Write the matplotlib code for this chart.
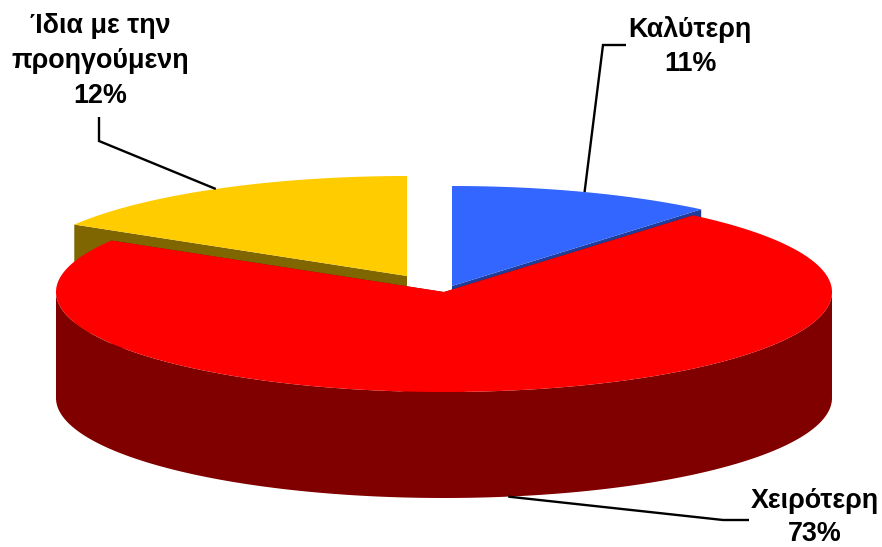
import numpy as np
import matplotlib
matplotlib.use("Agg")
import matplotlib.pyplot as plt
from matplotlib.patches import Polygon

# Data: clockwise from 12 o'clock
categories = ["Καλύτερη", "Χειρότερη", "Ίδια με την\nπροηγούμενη"]
label_pct = [11, 73, 12]            # printed on the chart
drawn_share = [11.1, 72.5, 16.4]    # slice sizes as they appear in the picture

top_colors = ["#3366FF", "#FF0000", "#FFCC00"]
side_colors = ["#1F3D99", "#800000", "#806600"]
offsets = [(8, -6), (0, 0), (-37, -16)]     # exploded slice displacement, px
label_x = [690, 815, 100]
label_first_baseline = [37, 508, 33]
label_step = [34, 33, 35]
elbows = [[(626, 45), (603, 45)], [(749, 520), (723, 520)], [(99, 117), (99, 141)]]

CX, CY, A, B, DEPTH = 444, 292, 388, 100, 106

plt.rcParams["font.family"] = ["Liberation Sans", "DejaVu Sans"]
fig = plt.figure(figsize=(8.82, 5.47), dpi=100, facecolor="white")
ax = fig.add_axes([0, 0, 1, 1])
ax.set_xlim(0, 882)
ax.set_ylim(547, 0)
ax.axis("off")


def rim(t_deg, ox, oy, dz=0):
    t = np.radians(t_deg)
    return np.column_stack((CX + ox + A * np.sin(t), CY + oy + dz - B * np.cos(t)))


edges = np.concatenate(([0], np.cumsum(drawn_share))) / sum(drawn_share) * 360
order = [2, 0, 1]   # painter's order: back slices first, red in front

for z, i in enumerate(order):
    t0, t1 = edges[i], edges[i + 1]
    ox, oy = offsets[i]
    apex = np.array([[CX + ox, CY + oy]])
    down = np.array([[0, DEPTH]])
    # cut faces
    for t in (t0, t1):
        p = rim([t], ox, oy)
        ax.add_patch(Polygon(np.vstack((apex, p, p + down, apex + down)),
                             closed=True, fc=side_colors[i], ec="none", zorder=z + 1))
    # outer wall, only where it faces the viewer (90..270 deg)
    lo, hi = max(t0, 90), min(t1, 270)
    if hi > lo:
        ts = np.linspace(lo, hi, 300)
        wall = np.vstack((rim(ts, ox, oy), rim(ts[::-1], ox, oy, DEPTH)))
        ax.add_patch(Polygon(wall, closed=True, fc=side_colors[i], ec="none", zorder=z + 1))
    # top face
    ts = np.linspace(t0, t1, 400)
    ax.add_patch(Polygon(np.vstack((apex, rim(ts, ox, oy))), closed=True,
                         fc=top_colors[i], ec="none", zorder=z + 1.5))

# Leader lines and labels
for i in range(3):
    mid = (edges[i] + edges[i + 1]) / 2
    ox, oy = offsets[i]
    front = 90 < mid < 270
    anchor = rim([mid], ox, oy, DEPTH if front else 0)[0]
    pts = np.array(elbows[i] + [tuple(anchor)])
    ax.plot(pts[:, 0], pts[:, 1], color="black", lw=1.7, solid_capstyle="butt",
            solid_joinstyle="miter", zorder=5)
    lines = categories[i].split("\n") + [f"{label_pct[i]}%"]
    for k, line in enumerate(lines):
        ax.text(label_x[i], label_first_baseline[i] + k * label_step[i], line,
                ha="center", va="baseline", fontsize=19.4, fontweight="bold",
                color="black", zorder=6)

fig.savefig("out.png", dpi=100, facecolor="white")
